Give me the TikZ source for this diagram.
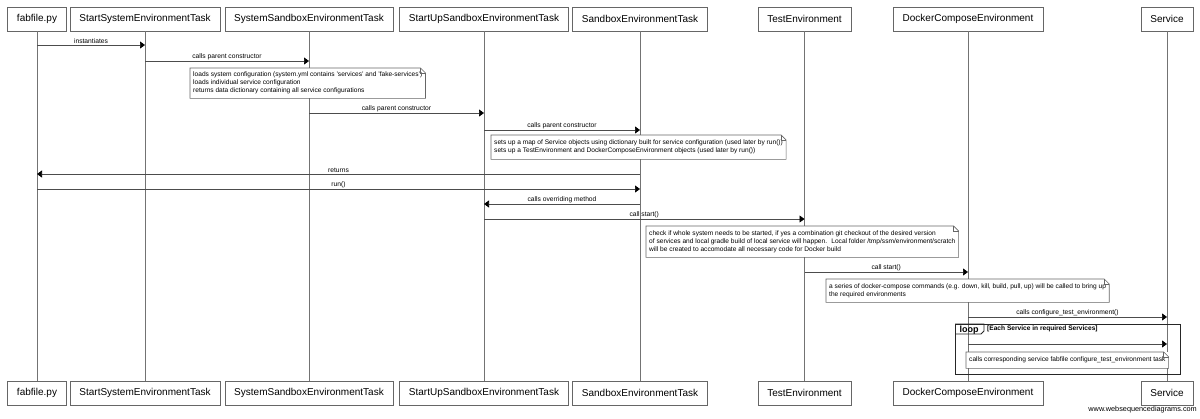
\documentclass[tikz,border=0pt]{standalone}
\usepackage{fontspec}
\setmainfont{Liberation Sans}
\usetikzlibrary{arrows.meta,positioning,calc}
\tikzset{%
   participant/.style = { draw=gray!80!black, fill=white, minimum height=24pt, inner xsep=9.5pt, font=\fontsize{10}{12}\selectfont },
      lifeline/.style = { draw=gray!90!black, line width=0.8pt },
           msg/.style = { draw=black!70, line width=0.6pt, -{Triangle[length=5pt,width=7pt,black]} },
      msglabel/.style = { midway, above=0pt, inner sep=1pt, font=\fontsize{6.7}{8}\selectfont },
          note/.style = { fill=white, anchor=north west, align=left, inner xsep=3pt, inner ysep=2pt, font=\fontsize{6.6}{8}\selectfont },
      notefold/.style = { draw=gray!80!black, line width=0.6pt },
     loopframe/.style = { draw=black!85, line width=1.2pt, anchor=north west, inner sep=0pt },
      looptext/.style = { inner sep=0pt, font=\bfseries\fontsize{9}{10}\selectfont },
     guardtext/.style = { inner sep=0pt, anchor=west, font=\bfseries\fontsize{6.6}{8}\selectfont }
}
% note with a folded corner
\newcommand{\foldnote}[1]{%
  \draw[notefold] (#1.north west) -- ([xshift=-5pt]#1.north east) -- ([yshift=-5pt]#1.north east)
     -- (#1.south east) -- (#1.south west) -- cycle;
  \draw[notefold] ([xshift=-5pt]#1.north east) -- ([xshift=-5pt,yshift=-5pt]#1.north east) -- ([yshift=-5pt]#1.north east);}

\begin{document}
\begin{tikzpicture}[x=1pt,y=-1pt,line cap=butt,line join=miter]
\useasboundingbox (0,0) rectangle (1200,418);
%participants on top
\node[participant] (fab) at (37,19) {fabfile.py};
\node[participant] (sset) at (145,19) {StartSystemEnvironmentTask};
\node[participant] (ssbt) at (309,19) {SystemSandboxEnvironmentTask};
\node[participant] (susbt) at (484,19) {StartUpSandboxEnvironmentTask};
\node[participant] (sbt) at (640,19) {SandboxEnvironmentTask};
\node[participant] (tenv) at (804.5,19) {TestEnvironment};
\node[participant] (dce) at (968,19) {DockerComposeEnvironment};
\node[participant] (svc) at (1167,19) {Service};
%participants at the bottom
\node[participant] (fab2) at (37,393) {fabfile.py};
\node[participant] (sset2) at (145,393) {StartSystemEnvironmentTask};
\node[participant] (ssbt2) at (309,393) {SystemSandboxEnvironmentTask};
\node[participant] (susbt2) at (484,393) {StartUpSandboxEnvironmentTask};
\node[participant] (sbt2) at (640,393) {SandboxEnvironmentTask};
\node[participant] (tenv2) at (804.5,393) {TestEnvironment};
\node[participant] (dce2) at (968,393) {DockerComposeEnvironment};
\node[participant] (svc2) at (1167,393) {Service};
%lifelines
\draw[lifeline] (fab) -- (fab2);
\draw[lifeline] (sset) -- (sset2);
\draw[lifeline] (ssbt) -- (ssbt2);
\draw[lifeline] (susbt) -- (susbt2);
\draw[lifeline] (sbt) -- (sbt2);
\draw[lifeline] (tenv) -- (tenv2);
\draw[lifeline] (dce) -- (dce2);
\draw[lifeline] (svc) -- (svc2);
%messages
\draw[msg] (fab |- 0,45) -- node[msglabel]{instantiates} (sset |- 0,45);
\draw[msg] (sset |- 0,61) -- node[msglabel]{calls parent constructor} (ssbt |- 0,61);
\node[note,minimum height=30pt] (cfgnote) at (190,68) {loads system configuration (system.yml contains 'services' and 'fake-services')\\loads individual service configuration\\returns data dictionary containing all service configurations};
\foldnote{cfgnote}
\draw[msg] (ssbt |- 0,113) -- node[msglabel]{calls parent constructor} (susbt |- 0,113);
\draw[msg] (susbt |- 0,130) -- node[msglabel]{calls parent constructor} (sbt |- 0,130);
\node[note,minimum height=24pt] (mapnote) at (491,135) {sets up a map of Service objects using dictionary built for service configuration (used later by run())\\sets up a TestEnvironment and DockerComposeEnvironment objects (used later by run())};
\foldnote{mapnote}
\draw[msg] (sbt |- 0,174) -- node[msglabel]{returns} (fab |- 0,174);
\draw[msg] (fab |- 0,189) -- node[msglabel]{run()} (sbt |- 0,189);
\draw[msg] (sbt |- 0,204) -- node[msglabel]{calls overriding method} (susbt |- 0,204);
\draw[msg] (susbt |- 0,219) -- node[msglabel]{call start()} (tenv |- 0,219);
\node[note,minimum height=31pt] (startnote) at (646,226) {check if whole system needs to be started, if yes a combination git checkout of the desired version\\of services and local gradle build of local service will happen.~ Local folder /tmp/ssm/environment/scratch\\will be created to accomodate all necessary code for Docker build};
\foldnote{startnote}
\draw[msg] (tenv |- 0,272) -- node[msglabel]{call start()} (dce |- 0,272);
\node[note,minimum height=23pt] (composenote) at (826,279) {a series of docker-compose commands (e.g. down, kill, build, pull, up) will be called to bring up\\the required environments};
\foldnote{composenote}
\draw[msg] (dce |- 0,317) -- node[msglabel]{calls configure\_test\_environment()} (svc |- 0,317);
%loop fragment
\node[loopframe,minimum width=225pt,minimum height=50pt] (loopbox) at (955,324) {};
\draw[line width=0.9pt,black!85] (loopbox.north west) -- ++(29,0) -- ++(0,7) -- ++(-3,3) -- ++(-26,0);
\node[looptext,anchor=base] (looplabel) at ($(loopbox.north west)+(14,8.5)$) {loop};
\node[guardtext] (guard) at ($(loopbox.north west)+(32,4.5)$) {[Each Service in required Services]};
\draw[msg] (dce |- 0,344) -- (svc |- 0,344);
\node[note,minimum height=16pt] (tasknote) at (966,352) {calls corresponding service fabfile configure\_test\_environment task};
\foldnote{tasknote}
\node[anchor=east,inner sep=0pt,font=\fontsize{7.3}{8}\selectfont] (credit) at (1197,410) {www.websequencediagrams.com};
\end{tikzpicture}
\end{document}
